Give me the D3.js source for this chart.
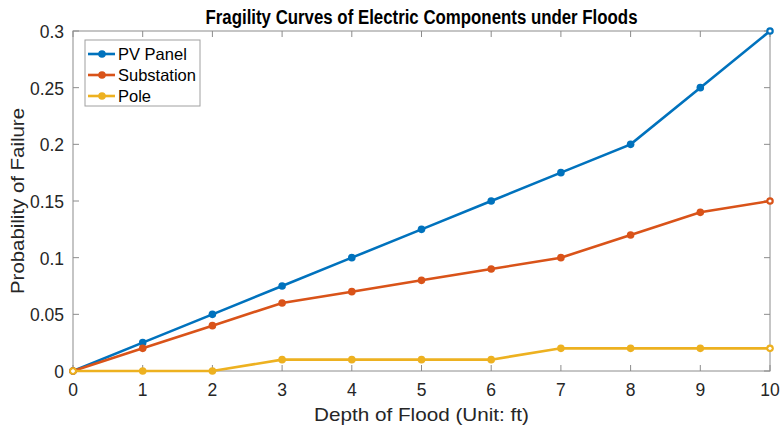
<!DOCTYPE html>
<html>
<head>
<meta charset="utf-8">
<script src="https://cdn.jsdelivr.net/npm/d3@7"></script>
<style>
  body { margin: 0; background: #fff; }
  text { font-family: "Liberation Sans", Arial, sans-serif; }
</style>
</head>
<body>
<div id="chart"></div>
<script>
const depths = [0, 1, 2, 3, 4, 5, 6, 7, 8, 9, 10];
const pvPanel = [0, 0.025, 0.05, 0.075, 0.1, 0.125, 0.15, 0.175, 0.2, 0.25, 0.3];
const substation = [0, 0.02, 0.04, 0.06, 0.07, 0.08, 0.09, 0.1, 0.12, 0.14, 0.15];
const pole = [0, 0, 0, 0.01, 0.01, 0.01, 0.01, 0.02, 0.02, 0.02, 0.02];
const seriesNames = ["PV Panel", "Substation", "Pole"];
const seriesColors = ["#0072BD", "#D95319", "#EDB120"];
const yTicks = [0, 0.05, 0.1, 0.15, 0.2, 0.25, 0.3];

const width = 784, height = 427;
const margin = { top: 31, right: 14, bottom: 56, left: 73 };
const iw = width - margin.left - margin.right;
const ih = height - margin.top - margin.bottom;

const svg = d3.select("#chart").append("svg")
  .attr("width", width).attr("height", height);

const x = d3.scaleLinear().domain([0, 10]).range([margin.left, margin.left + iw]);
const y = d3.scaleLinear().domain([0, 0.3]).range([margin.top + ih, margin.top]);

const axisColor = "#8c8c8c";
const labelColor = "#262626";

// axes box
svg.append("rect")
  .attr("x", margin.left).attr("y", margin.top)
  .attr("width", iw).attr("height", ih)
  .attr("fill", "none").attr("stroke", axisColor).attr("stroke-width", 1);

const tickLen = 6;
const g = svg.append("g");
depths.forEach(d => {
  g.append("line").attr("x1", x(d)).attr("x2", x(d))
    .attr("y1", y(0)).attr("y2", y(0) - tickLen).attr("stroke", axisColor);
  g.append("line").attr("x1", x(d)).attr("x2", x(d))
    .attr("y1", y(0.3)).attr("y2", y(0.3) + tickLen).attr("stroke", axisColor);
  g.append("text").attr("x", x(d)).attr("y", y(0) + 25)
    .attr("text-anchor", "middle").attr("font-size", 17.5)
    .attr("fill", labelColor).text(d);
});
yTicks.forEach(t => {
  g.append("line").attr("x1", x(0)).attr("x2", x(0) + tickLen)
    .attr("y1", y(t)).attr("y2", y(t)).attr("stroke", axisColor);
  g.append("line").attr("x1", x(10)).attr("x2", x(10) - tickLen)
    .attr("y1", y(t)).attr("y2", y(t)).attr("stroke", axisColor);
  g.append("text").attr("x", x(0) - 9).attr("y", y(t) + 7)
    .attr("text-anchor", "end").attr("font-size", 17.5)
    .attr("fill", labelColor).text(d3.format("")(t));
});

// series
const allSeries = [pvPanel, substation, pole];
const line = d3.line().x((d, i) => x(depths[i])).y(d => y(d));
allSeries.forEach((vals, si) => {
  svg.append("path").datum(vals)
    .attr("d", line).attr("fill", "none")
    .attr("stroke", seriesColors[si]).attr("stroke-width", 2.6);
  svg.selectAll(null).data(vals).enter().append("circle")
    .attr("cx", (d, i) => x(depths[i])).attr("cy", d => y(d))
    .attr("r", 3.8).attr("fill", seriesColors[si]);
});
// open centres on the endpoints, as in the reference
allSeries.forEach((vals, si) => {
  [0, vals.length - 1].forEach(i => {
    svg.append("circle").attr("cx", x(depths[i])).attr("cy", y(vals[i]))
      .attr("r", 1.6).attr("fill", "#fff");
  });
});

// title and labels (MATLAB's Helvetica is squeezed/stretched, so fit widths)
svg.append("text").attr("x", margin.left + iw / 2).attr("y", 24)
  .attr("text-anchor", "middle").attr("font-size", 20).attr("font-weight", "bold")
  .attr("textLength", 432).attr("lengthAdjust", "spacingAndGlyphs")
  .attr("fill", "#000").text("Fragility Curves of Electric Components under Floods");
svg.append("text").attr("x", margin.left + iw / 2).attr("y", 421)
  .attr("text-anchor", "middle").attr("font-size", 18.5)
  .attr("textLength", 215).attr("lengthAdjust", "spacingAndGlyphs")
  .attr("fill", labelColor).text("Depth of Flood (Unit: ft)");
svg.append("text")
  .attr("transform", `translate(24, ${margin.top + ih / 2}) rotate(-90)`)
  .attr("text-anchor", "middle").attr("font-size", 19)
  .attr("textLength", 186).attr("lengthAdjust", "spacingAndGlyphs")
  .attr("fill", labelColor).text("Probability of Failure");

// legend
const leg = svg.append("g").attr("transform", "translate(85, 40)");
leg.append("rect").attr("width", 115).attr("height", 66)
  .attr("fill", "#fff").attr("stroke", "#a0a0a0").attr("stroke-width", 1);
seriesNames.forEach((name, i) => {
  const yy = 14 + i * 21;
  leg.append("line").attr("x1", 3).attr("x2", 30).attr("y1", yy).attr("y2", yy)
    .attr("stroke", seriesColors[i]).attr("stroke-width", 2.6);
  leg.append("circle").attr("cx", 17).attr("cy", yy).attr("r", 3.8)
    .attr("fill", seriesColors[i]);
  leg.append("text").attr("x", 33).attr("y", yy + 6)
    .attr("font-size", 16.5).attr("fill", "#000").text(name);
});
</script>
</body>
</html>
